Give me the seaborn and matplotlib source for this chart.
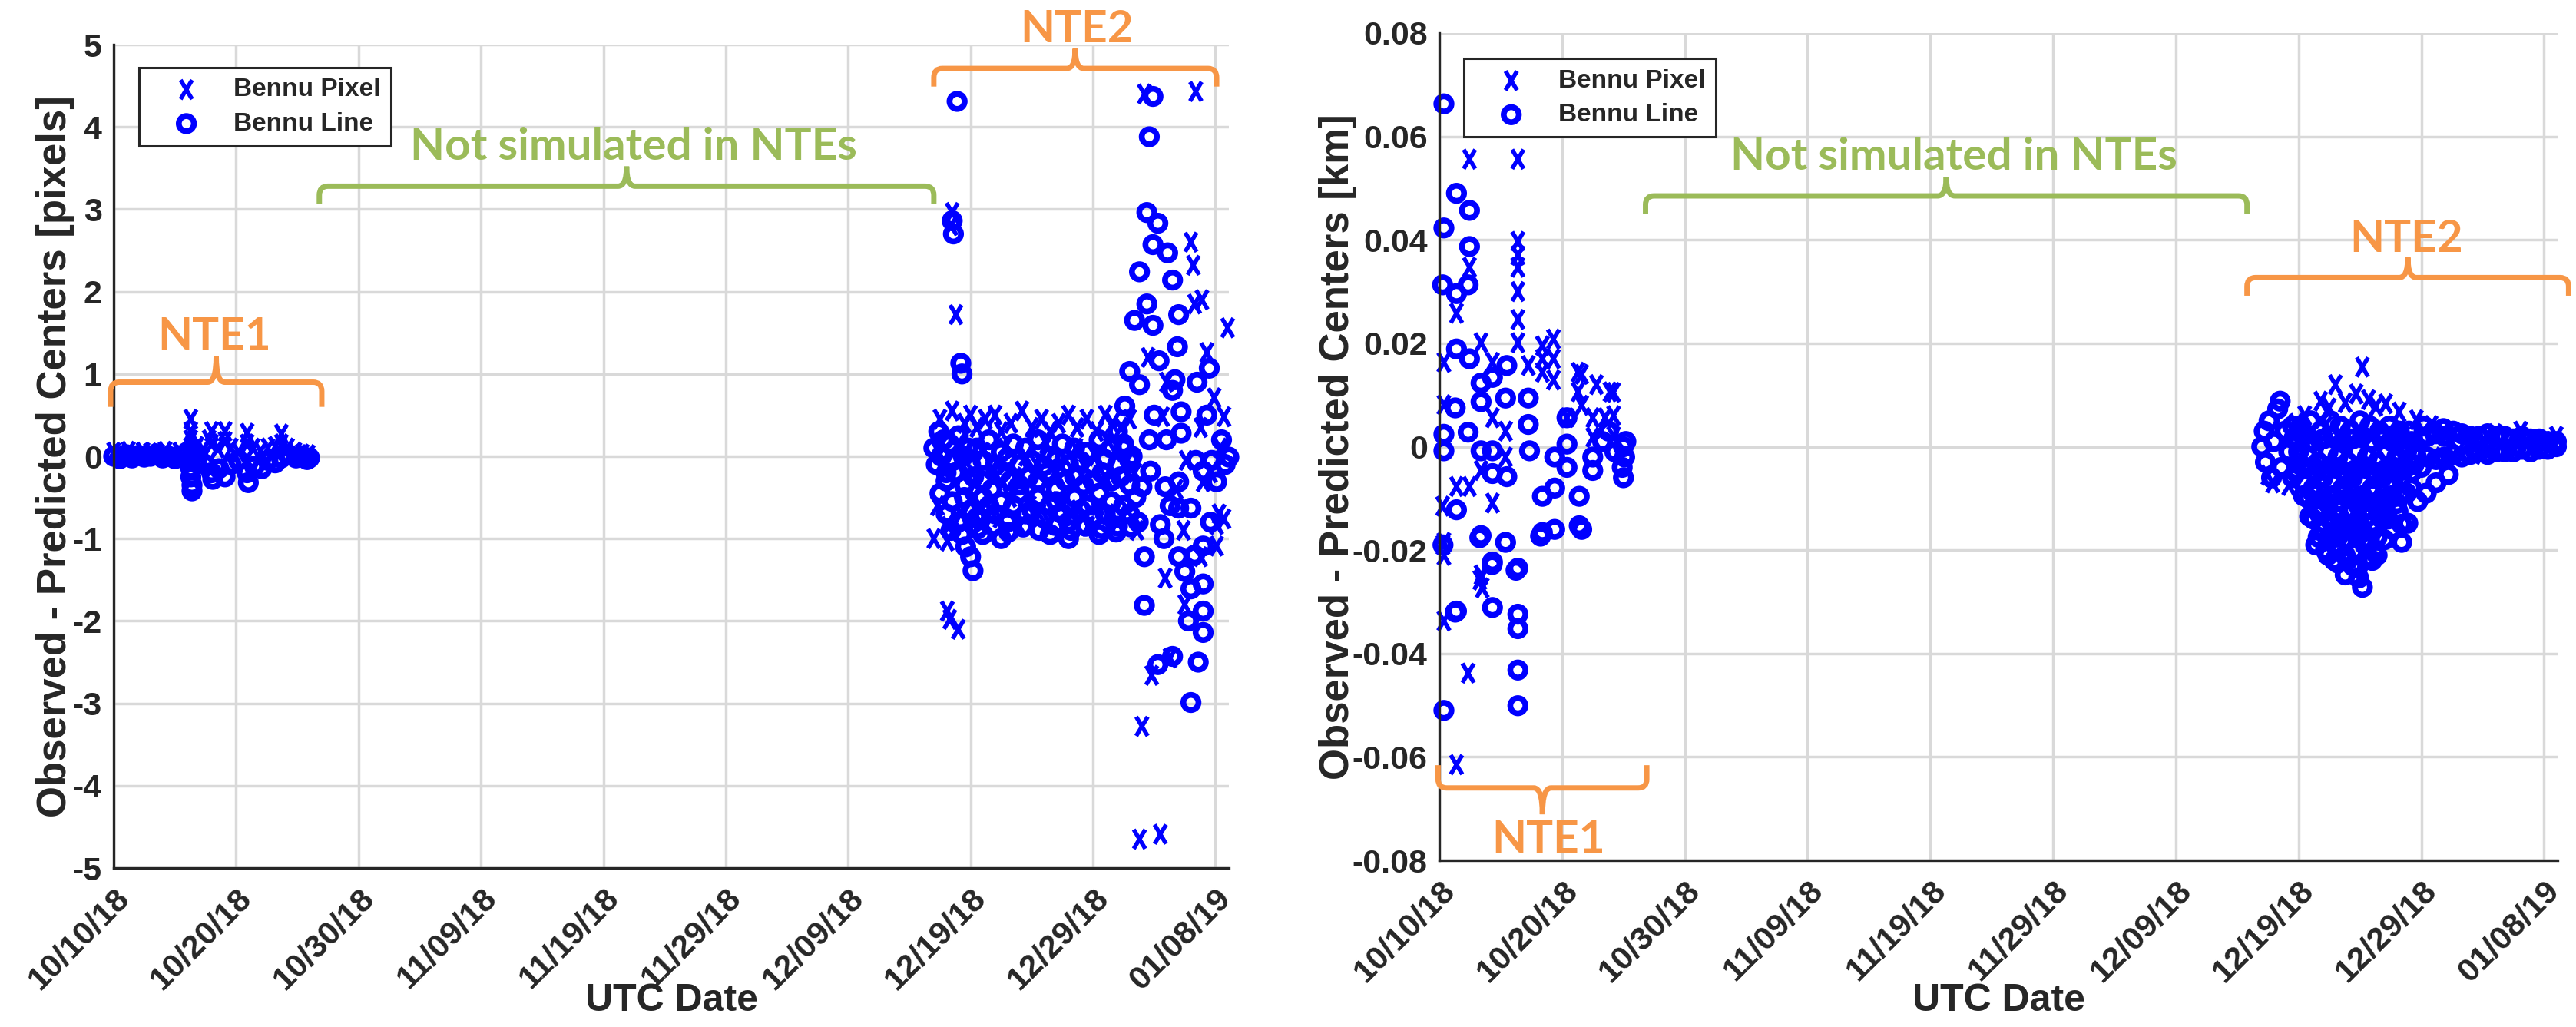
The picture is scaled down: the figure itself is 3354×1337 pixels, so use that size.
import pandas as pd
import seaborn as sns
import matplotlib.pyplot as plt
import matplotlib.dates as mdates
from matplotlib.path import Path
from matplotlib.patches import PathPatch

START = pd.Timestamp("2018-10-10")
X_SPAN_DAYS = 91.1

# ---- residuals: (days since 10/10/18, value) ----
# left panel, pixels
pix_pixel_nte1 = [
    (0.0, 0.05), (0.6, 0.03), (1.2, 0.06), (1.8, 0.02), (2.4, 0.05), (3.0, 0.04),
    (3.6, 0.03), (4.2, 0.06), (4.8, 0.02), (5.4, 0.05), (6.0, 0.04), (6.3, 0.45),
    (6.3, 0.3), (6.3, 0.2), (6.3, 0.1), (6.3, -0.05), (6.8, 0.12), (7.3, 0.08),
    (7.8, 0.2), (8.0, 0.3), (8.0, 0.15), (8.5, 0.1), (9.1, 0.3), (9.1, 0.18),
    (9.6, 0.1), (10.2, 0.05), (10.9, 0.28), (10.9, 0.15), (11.4, 0.1), (12.0, 0.06),
    (12.6, 0.1), (13.2, 0.12), (13.7, 0.27), (13.7, 0.15), (14.2, 0.1), (14.8, 0.05),
    (15.4, 0.03), (15.9, 0.02),
]
pix_line_nte1 = [
    (0.0, 0.0), (0.5, -0.03), (1.0, 0.02), (1.5, -0.02), (2.0, 0.01), (2.5, -0.01),
    (3.0, 0.0), (3.5, 0.03), (4.0, -0.02), (4.5, 0.0), (5.0, -0.03), (5.5, 0.01),
    (6.0, -0.05), (6.3, -0.15), (6.3, -0.25), (6.4, -0.35), (6.4, -0.42), (6.8, -0.05),
    (7.5, -0.1), (8.0, -0.2), (8.1, -0.28), (8.6, -0.15), (9.1, -0.25), (9.6, -0.1),
    (10.2, -0.05), (10.9, -0.2), (11.0, -0.32), (11.5, -0.12), (12.1, -0.15),
    (12.6, -0.05), (13.2, -0.08), (13.7, -0.02), (14.3, 0.02), (14.9, -0.02),
    (15.4, 0.0), (15.8, -0.04), (16.0, -0.02),
]
pix_pixel_nte2 = [
    (68.5, 2.96), (68.4, 2.8), (68.8, 1.72), (68.1, -1.88), (68.3, -1.98), (69.0, -2.1),
    (68.1, -1.03), (84.2, 4.4), (88.4, 4.43), (88.0, 2.6), (88.2, 2.32), (88.3, 1.85),
    (88.9, 1.9), (89.3, 1.26), (84.0, -3.28), (83.8, -4.65), (85.5, -4.59), (84.8, -2.66),
    (85.9, -1.48), (91.0, 1.56), (89.9, 0.71), (85.7, 0.48), (90.7, 0.48), (88.8, 0.35),
    (87.6, -0.05), (89.0, -0.31), (90.1, -1.09), (90.3, -0.7), (90.7, -0.76), (87.4, -0.9),
    (88.8, -1.22), (90.1, -0.83), (86.3, -2.45), (87.5, -1.8), (86.0, 0.9), (84.5, 1.2),
    (86.8, -0.4), (89.6, -0.2), (90.4, 0.1),
    (67.5, 0.45), (68.5, 0.55), (69.5, 0.4), (70.0, 0.5), (70.5, 0.35), (71.2, 0.45),
    (72.0, 0.5), (72.5, 0.3), (73.3, 0.4), (74.2, 0.55), (75.0, 0.35), (75.8, 0.45),
    (76.5, 0.3), (77.2, 0.4), (78.0, 0.5), (78.7, 0.35), (79.5, 0.45), (80.3, 0.3),
    (81.0, 0.5), (81.6, 0.4), (82.3, 0.35), (83.0, 0.45),
    (67.2, 0.1), (68.0, -0.1), (69.0, 0.15), (70.2, -0.2), (71.0, 0.05), (71.8, -0.15),
    (72.8, 0.1), (73.6, -0.25), (74.5, 0.0), (75.4, -0.1), (76.2, 0.15), (77.0, -0.2),
    (77.8, -0.05), (78.6, 0.1), (79.4, -0.15), (80.2, 0.0), (81.0, -0.25), (81.8, 0.05),
    (82.6, -0.1), (83.4, -0.2),
    (67.3, -0.6), (68.2, -0.85), (69.2, -0.7), (70.0, -0.55), (70.8, -0.8), (71.6, -0.65),
    (72.4, -0.75), (73.2, -0.5), (74.0, -0.85), (74.8, -0.6), (75.6, -0.7), (76.4, -0.8),
    (77.2, -0.55), (78.0, -0.75), (78.8, -0.65), (79.6, -0.85), (80.4, -0.6), (81.2, -0.7),
    (82.0, -0.8), (82.8, -0.65), (83.6, -0.9), (67.0, -1.0),
]
pix_line_nte2 = [
    (68.9, 4.31), (68.5, 2.86), (68.6, 2.7), (69.2, 1.13), (69.3, 1.0),
    (67.0, 0.1), (67.2, -0.1), (67.4, 0.3), (67.6, 0.0), (67.8, 0.2), (68.0, -0.2),
    (68.3, 0.15), (68.6, -0.05), (69.0, 0.25), (69.4, 0.0), (69.8, 0.1),
    (70.5, 0.1), (71.5, 0.2), (72.5, 0.05), (73.5, 0.15), (74.5, 0.1), (75.5, 0.2),
    (76.5, 0.0), (77.5, 0.15), (78.5, 0.1), (79.5, 0.05), (80.5, 0.2), (81.5, 0.1),
    (82.5, 0.15),
    (70.0, -0.1), (71.0, -0.05), (72.0, -0.12), (73.0, -0.02), (74.0, -0.1), (75.0, -0.05),
    (76.0, -0.12), (77.0, -0.03), (78.0, -0.1), (79.0, -0.06), (80.0, -0.12), (81.0, -0.04),
    (82.0, -0.1), (83.0, -0.05),
    (68.0, -0.3), (68.75, -0.2), (69.5, -0.35), (70.25, -0.25), (71.0, -0.3),
    (71.75, -0.4), (72.5, -0.2), (73.25, -0.3), (74.0, -0.35), (74.75, -0.25),
    (75.5, -0.3), (76.25, -0.2), (77.0, -0.4), (77.75, -0.3), (78.5, -0.25),
    (79.25, -0.35), (80.0, -0.3), (80.75, -0.2), (81.5, -0.3), (82.25, -0.25), (83.0, -0.35),
    (67.5, -0.45), (68.0, -0.7), (68.5, -0.55), (69.0, -0.8), (69.5, -0.5), (70.0, -0.65),
    (70.5, -0.75), (71.0, -0.5), (71.5, -0.6), (72.0, -0.7), (72.5, -0.55), (73.0, -0.8),
    (73.5, -0.6), (74.0, -0.45), (74.5, -0.7), (75.0, -0.65), (75.5, -0.5), (76.0, -0.75),
    (76.5, -0.6), (77.0, -0.55), (77.5, -0.7), (78.0, -0.8), (78.5, -0.5), (79.0, -0.65),
    (79.5, -0.6), (80.0, -0.75), (80.5, -0.45), (81.0, -0.7), (81.5, -0.55), (82.0, -0.85),
    (82.5, -0.6), (83.0, -0.7), (83.5, -0.5),
    (68.4, -0.9), (69.3, -0.95), (70.6, -0.88), (71.9, -0.85), (73.1, -0.92), (74.3, -0.86),
    (75.6, -0.9), (76.9, -0.84), (78.2, -0.9), (79.4, -0.85), (80.7, -0.88), (81.9, -0.92),
    (83.1, -0.86),
    (70.2, -1.39), (70.0, -1.22), (69.6, -1.1), (71.0, -0.95), (72.5, -1.0), (76.5, -0.95),
    (78.0, -1.0), (80.5, -0.95),
    (84.4, 2.96), (84.6, 3.88), (84.9, 4.37), (85.3, 2.83), (84.9, 2.57), (86.1, 2.47),
    (86.5, 2.14), (83.8, 2.24), (83.4, 1.65), (84.4, 1.85), (84.9, 1.59), (87.0, 1.72),
    (85.4, 1.16), (86.9, 1.33), (86.7, 0.93), (83.0, 1.03), (89.5, 1.07), (87.2, 0.54),
    (83.8, 0.87), (87.2, 0.28), (82.6, 0.61), (91.1, -0.01), (89.7, -0.05), (84.2, -1.81),
    (85.3, -2.53), (86.5, -2.43), (88.0, -2.99), (88.6, -2.5), (89.0, -2.14), (87.8, -2.0),
    (89.0, -1.88), (88.0, -1.61), (89.0, -1.55), (87.0, -1.22), (85.5, -0.83), (84.2, -1.22),
    (90.1, -0.31), (89.0, -0.18), (88.4, -0.05), (87.0, -0.31), (85.9, -0.37), (84.0, -0.37),
    (84.7, -0.18), (88.0, -0.63), (89.0, -1.09), (87.0, -0.63), (82.0, 0.3), (82.5, 0.1),
    (83.2, 0.0), (85.0, 0.5), (86.0, 0.2), (86.5, 0.8), (90.5, 0.2), (90.8, -0.1),
    (89.3, 0.5), (88.5, 0.9), (85.8, -1.0), (87.5, -1.4), (88.3, -1.2), (84.6, 0.2),
    (83.7, -0.8), (86.3, -0.6), (89.6, -0.8),
]

# right panel, km
km_pixel_nte1 = [
    (0.375, 0.0163), (0.375, 0.0081), (0.27, -0.0115), (0.375, -0.0185), (0.375, -0.021),
    (0.375, -0.0337), (1.4, -0.0615), (1.4, 0.0258), (1.4, -0.0077), (2.46, 0.0556),
    (2.46, 0.0347), (2.46, -0.0077), (2.35, -0.0438), (3.4, 0.0201), (3.4, -0.0046),
    (3.4, -0.0248), (3.5, -0.0273), (4.33, 0.0163), (4.33, 0.0056), (4.33, -0.0109),
    (5.4, 0.003), (5.4, -0.002), (6.4, 0.0556), (6.4, 0.0397), (6.4, 0.0347), (6.4, 0.0246),
    (6.4, 0.0201), (7.25, 0.0157), (8.4, 0.0195), (8.4, 0.0144), (9.3, 0.0208),
    (9.3, 0.0129), (10.4, 0.0056), (11.3, 0.0144), (11.3, 0.0106), (12.5, 0.0056),
    (12.5, 0.0018), (13.5, 0.0056), (13.9, 0.0106), (14.2, 0.0105), (14.2, 0.006),
    (14.2, 0.002), (3.3, -0.0258), (0.3, -0.019), (6.4, 0.03), (6.4, 0.037),
    (8.4, 0.017), (9.3, 0.017), (11.6, 0.014), (11.6, 0.008), (12.8, 0.012),
]
km_line_nte1 = [
    (0.375, 0.0663), (0.375, 0.0423), (0.27, 0.0313), (0.375, -0.051), (0.375, -0.0008),
    (0.375, 0.0024), (1.4, 0.049), (2.46, 0.0457), (2.46, 0.0387), (2.35, 0.0313),
    (1.4, 0.0296), (1.4, 0.0189), (1.3, 0.0075), (2.46, 0.017), (2.35, 0.0028),
    (1.4, -0.0122), (1.4, -0.0318), (3.4, 0.0123), (3.4, 0.0087), (3.4, -0.0008),
    (3.4, -0.0172), (4.33, 0.0134), (4.33, -0.0008), (4.33, -0.0052), (4.33, -0.0223),
    (4.33, -0.0311), (5.5, 0.0157), (5.4, 0.0094), (5.5, -0.0058), (5.4, -0.0185),
    (6.4, -0.0235), (6.4, -0.0324), (6.4, -0.0352), (6.4, -0.0432), (6.4, -0.0501),
    (7.25, 0.0094), (7.25, 0.0043), (7.35, -0.0008), (8.4, -0.0096), (8.4, -0.0166),
    (9.4, -0.002), (9.4, -0.016), (10.4, 0.0056), (10.4, 0.0005), (11.4, -0.0096),
    (11.4, -0.0153), (12.5, -0.0046), (12.5, -0.002), (15.0, 0.0), (15.1, -0.002),
    (15.2, 0.001), (14.9, -0.004), (15.0, -0.006), (11.6, -0.016), (8.25, -0.0173),
    (3.3, -0.0176), (4.3, -0.0228), (1.3, -0.032), (6.25, -0.0239), (0.3, -0.019),
    (9.4, -0.008), (10.4, -0.004), (13.3, 0.001), (13.8, 0.003), (14.3, -0.001),
]
km_pixel_nte2 = [
    (75.2, 0.0154), (73.0, 0.012), (74.7, 0.0102), (71.8, 0.0088), (75.7, 0.0091),
    (77.1, 0.0083), (78.2, 0.0067), (79.6, 0.0052), (80.8, 0.0041), (88.1, 0.003),
    (91.0, 0.002), (72.5, 0.0075), (73.8, 0.0085), (76.3, 0.0078), (70.5, 0.006),
    (69.8, 0.0045), (67.9, -0.007), (69.2, -0.0075), (67.5, -0.0055),
    (70.8, 0.002), (71.5, -0.002), (72.2, 0.004), (72.9, -0.004), (73.6, 0.001),
    (74.3, -0.006), (75.0, 0.003), (75.7, -0.003), (76.4, 0.0), (77.1, -0.005),
    (77.8, 0.002), (78.5, -0.002), (79.2, 0.001), (72.0, -0.009), (74.0, -0.011),
    (76.0, -0.01), (78.0, -0.008), (73.0, -0.015), (75.0, -0.016), (77.0, -0.013),
    (82.0, 0.002), (84.0, 0.001), (86.0, 0.0025), (88.0, 0.0015), (90.0, 0.001),
    (81.0, -0.002), (83.0, -0.001), (85.0, -0.0015), (87.0, -0.0005), (89.0, 0.0),
]
km_line_nte2 = [
    (67.0, 0.0), (67.2, 0.003), (67.3, -0.003), (67.6, 0.005), (67.8, -0.006), (68.0, 0.001),
    (68.3, 0.0073), (68.5, 0.0088), (68.6, -0.004), (68.9, 0.003), (69.2, -0.001),
    (69.5, 0.004), (69.8, -0.005), (70.0, 0.001),
    (70.2, 0.004), (71.0, 0.005), (71.8, 0.003), (72.6, 0.005), (73.4, 0.004), (74.2, 0.003),
    (75.0, 0.005), (75.8, 0.004), (76.6, 0.003), (77.4, 0.004), (78.2, 0.003), (79.0, 0.003),
    (69.6, 0.0015), (70.4, 0.002), (71.2, 0.001), (72.0, 0.0015), (72.8, 0.002), (73.6, 0.001),
    (74.4, 0.0015), (75.2, 0.002), (76.0, 0.001), (76.8, 0.0015), (77.6, 0.001), (78.4, 0.0015),
    (79.2, 0.001), (80.0, 0.0015),
    (70.0, -0.001), (70.8, -0.002), (71.6, -0.003), (72.4, -0.001), (73.2, -0.002),
    (74.0, -0.003), (74.8, -0.001), (75.6, -0.002), (76.4, -0.003), (77.2, -0.001),
    (78.0, -0.002), (78.8, -0.001), (79.6, -0.002),
    (69.8, -0.0045), (70.6, -0.004), (71.4, -0.005), (72.2, -0.0045), (73.0, -0.004),
    (73.8, -0.005), (74.6, -0.0045), (75.4, -0.004), (76.2, -0.005), (77.0, -0.0045),
    (77.8, -0.004), (78.6, -0.0045), (79.4, -0.0035),
    (69.5, -0.006), (70.4, -0.007), (71.2, -0.008), (72.0, -0.006), (72.8, -0.007),
    (73.6, -0.008), (74.4, -0.006), (75.2, -0.007), (76.0, -0.008), (76.8, -0.006),
    (77.6, -0.007), (78.4, -0.006), (79.2, -0.005), (80.0, -0.004),
    (70.4, -0.0095), (71.2, -0.009), (72.0, -0.010), (72.8, -0.0095), (73.6, -0.009),
    (74.4, -0.010), (75.2, -0.0095), (76.0, -0.009), (76.8, -0.010), (77.6, -0.0095),
    (78.4, -0.009), (79.2, -0.008),
    (70.8, -0.010), (71.6, -0.012), (72.4, -0.011), (73.2, -0.012), (74.0, -0.010),
    (74.8, -0.011), (75.6, -0.012), (76.4, -0.011), (77.2, -0.010), (78.0, -0.011),
    (78.8, -0.009),
    (70.9, -0.0135), (71.7, -0.013), (72.5, -0.014), (73.3, -0.0135), (74.1, -0.013),
    (74.9, -0.014), (75.7, -0.0135), (76.5, -0.013), (77.3, -0.014), (78.1, -0.0125),
    (71.2, -0.014), (72.0, -0.016), (72.8, -0.015), (73.6, -0.016), (74.4, -0.015),
    (75.2, -0.016), (76.0, -0.015), (76.8, -0.014), (77.6, -0.016), (78.4, -0.015),
    (71.6, -0.0175), (72.4, -0.018), (73.2, -0.0175), (74.0, -0.018), (74.8, -0.0175),
    (75.6, -0.018), (76.4, -0.0175),
    (71.4, -0.019), (72.2, -0.020), (73.0, -0.019), (73.8, -0.021), (74.6, -0.020),
    (75.4, -0.019), (76.2, -0.020), (77.0, -0.018),
    (72.4, -0.021), (73.2, -0.0225), (74.0, -0.022), (74.8, -0.0235), (75.6, -0.0215),
    (72.9, -0.022), (73.8, -0.0248), (74.9, -0.0254), (75.2, -0.0272), (74.4, -0.023),
    (76.0, -0.022),
    (80.5, 0.002), (81.2, 0.0025), (81.9, 0.002), (82.6, 0.003), (83.3, 0.0025), (84.0, 0.002),
    (84.7, 0.002), (85.4, 0.0025), (86.1, 0.002), (86.8, 0.002), (87.5, 0.0015), (88.2, 0.002),
    (88.9, 0.0015), (89.6, 0.0015), (90.3, 0.001), (91.0, 0.001),
    (80.5, -0.002), (81.2, -0.0025), (81.9, -0.002), (82.6, -0.0015), (83.3, -0.002),
    (84.0, -0.0015), (84.7, -0.001), (85.4, -0.0015), (86.1, -0.001), (86.8, -0.001),
    (87.5, -0.001), (88.2, -0.0005), (88.9, -0.001), (89.6, -0.0005), (90.3, -0.0005),
    (91.0, 0.0),
    (80.2, 0.004), (81.0, 0.003), (81.8, 0.0035), (79.7, -0.0106), (80.4, -0.009),
    (82.2, -0.0054), (78.9, -0.0148), (78.4, -0.0185), (76.4, -0.021), (81.2, -0.007),
]

x_tick_days = [0, 10, 20, 30, 40, 50, 60, 70, 80, 90]
y_ticks_pix = [-5, -4, -3, -2, -1, 0, 1, 2, 3, 4, 5]
y_ticklabels_pix = ["-5", "-4", "-3", "-2", "-1", "0", "1", "2", "3", "4", "5"]
y_ticks_km = [-0.08, -0.06, -0.04, -0.02, 0, 0.02, 0.04, 0.06, 0.08]
y_ticklabels_km = ["-0.08", "-0.06", "-0.04", "-0.02", "0", "0.02", "0.04", "0.06", "0.08"]

ORANGE = "#F79646"
GREEN = "#9BBB59"
INK = "#262626"

sns.set_style("white")
plt.rcParams["font.family"] = ["Liberation Sans", "DejaVu Sans"]
plt.rcParams["font.weight"] = "bold"
plt.rcParams["axes.labelweight"] = "bold"
plt.rcParams["axes.unicode_minus"] = False

T0 = mdates.date2num(START)

# bowtie-ish x marker, taller than wide like the original
X_MARK = Path([(-0.3, -0.5), (0.3, 0.5), (-0.3, 0.5), (0.3, -0.5)],
              [Path.MOVETO, Path.LINETO, Path.MOVETO, Path.LINETO])


def to_frame(pairs):
    df = pd.DataFrame(pairs, columns=["day", "resid"])
    df["date"] = START + pd.to_timedelta(df["day"], unit="D")
    return df


def brace(ax, x0, x1, y, yend, ytip, rx, ry, color):
    # curly bracket in data coords (x in days since START)
    x0, x1 = T0 + x0, T0 + x1
    xm = (x0 + x1) / 2
    s = 1 if ytip > y else -1
    verts = [(x0, yend), (x0, y - s * ry), (x0, y), (x0 + rx, y),
             (xm - rx, y), (xm, y), (xm, ytip), (xm, y), (xm + rx, y),
             (x1 - rx, y), (x1, y), (x1, y - s * ry), (x1, yend)]
    codes = [Path.MOVETO, Path.LINETO, Path.CURVE3, Path.CURVE3,
             Path.LINETO, Path.CURVE3, Path.CURVE3, Path.CURVE3, Path.CURVE3,
             Path.LINETO, Path.CURVE3, Path.CURVE3, Path.LINETO]
    ax.add_patch(PathPatch(Path(verts, codes), facecolor="none", edgecolor=color,
                           lw=5, clip_on=False, zorder=5, capstyle="butt"))


def label(ax, day, y, txt, color, va="baseline"):
    ax.text(T0 + day, y, txt, color=color, fontsize=42, family=["Lato", "DejaVu Sans"],
            fontweight="bold", ha="center", va=va, clip_on=False, zorder=6)


def panel(ax, pixel_pts, line_pts, yticks, yticklabels, ylim, ylabel):
    sns.scatterplot(data=to_frame(pixel_pts), x="date", y="resid", marker=X_MARK, s=324,
                    facecolor="none", edgecolor="blue", linewidth=4,
                    label="Bennu Pixel", ax=ax, zorder=3, clip_on=False)
    sns.scatterplot(data=to_frame(line_pts), x="date", y="resid", marker="o", s=200,
                    facecolor="none", edgecolor="blue", linewidth=5.5,
                    label="Bennu Line", ax=ax, zorder=3, clip_on=False)

    ax.set_xlim(START, START + pd.Timedelta(days=X_SPAN_DAYS))
    ax.set_xticks([START + pd.Timedelta(days=d) for d in x_tick_days])
    ax.xaxis.set_major_formatter(mdates.DateFormatter("%m/%d/%y"))
    ax.set_ylim(*ylim)
    ax.set_yticks(yticks)
    ax.set_yticklabels(yticklabels)

    ax.grid(True, color="#d9d9d9", linewidth=2.5)
    ax.set_axisbelow(True)
    for side in ["top", "right"]:
        ax.spines[side].set_visible(False)
    for side in ["left", "bottom"]:
        ax.spines[side].set_color(INK)
        ax.spines[side].set_linewidth(2.4)
        ax.spines[side].set_zorder(4)

    ax.tick_params(direction="in", length=18, width=2, colors=INK, labelsize=31)
    ax.tick_params(axis="x", pad=14, labelrotation=45)
    ax.tick_params(axis="y", pad=11)
    plt.setp(ax.get_xticklabels(), ha="right", va="top", rotation_mode="anchor")

    ax.set_xlabel("UTC Date", fontsize=36, color=INK)
    ax.set_ylabel(ylabel, fontsize=38, color=INK)


fig = plt.figure(figsize=(33.54, 13.37), dpi=100)
ax1 = fig.add_axes([148 / 3354, 1 - 1130 / 1337, 1452 / 3354, 1072 / 1337])
ax2 = fig.add_axes([1874 / 3354, 1 - 1120 / 1337, 1456 / 3354, 1077 / 1337])

panel(ax1, pix_pixel_nte1 + pix_pixel_nte2, pix_line_nte1 + pix_line_nte2,
      y_ticks_pix, y_ticklabels_pix, (-5, 5), "Observed - Predicted Centers [pixels]")
panel(ax2, km_pixel_nte1 + km_pixel_nte2, km_line_nte1 + km_line_nte2,
      y_ticks_km, y_ticklabels_km, (-0.08, 0.08), "Observed - Predicted Centers [km]")

ax1.yaxis.set_label_coords(-0.035, 0.5)
ax2.yaxis.set_label_coords(-0.0735, 0.5)
ax1.xaxis.set_label_coords(0.5, -0.140)
ax2.xaxis.set_label_coords(0.5, -0.1486)

for ax, anchor in [(ax1, (0.0227, 0.972)), (ax2, (0.022, 0.969))]:
    leg = ax.legend(loc="upper left", bbox_to_anchor=anchor, borderaxespad=0,
                    prop=dict(family="Liberation Sans", weight="bold", size=24),
                    frameon=True, fancybox=False, framealpha=1, edgecolor=INK,
                    borderpad=0.4, handlelength=2.9, handletextpad=0.4,
                    labelspacing=0.4, scatterpoints=1)
    leg.get_frame().set_linewidth(2.2)
    leg.set_zorder(7)

# annotations, pixels panel
brace(ax1, -0.25, 17.0, 0.9, 0.6, 1.21, 0.7, 0.11, ORANGE)
label(ax1, 8.2, 1.3, "NTE1", ORANGE)
brace(ax1, 16.8, 67.0, 3.28, 3.06, 3.52, 0.7, 0.11, GREEN)
label(ax1, 42.5, 3.6, "Not simulated in NTEs", GREEN)
brace(ax1, 67.0, 90.1, 4.71, 4.49, 4.95, 0.7, 0.11, ORANGE)
label(ax1, 78.7, 5.03, "NTE2", ORANGE)

# annotations, km panel
brace(ax2, 16.8, 65.8, 0.0485, 0.045, 0.0522, 0.7, 0.0017, GREEN)
label(ax2, 41.9, 0.0536, "Not simulated in NTEs", GREEN)
brace(ax2, 65.8, 92.0, 0.0327, 0.0292, 0.0366, 0.7, 0.0017, ORANGE)
label(ax2, 78.8, 0.0377, "NTE2", ORANGE)
brace(ax2, -0.1, 16.9, -0.066, -0.0616, -0.0711, 0.7, 0.0017, ORANGE)
label(ax2, 8.9, -0.0785, "NTE1", ORANGE)

fig.savefig("out.png", dpi=100)
